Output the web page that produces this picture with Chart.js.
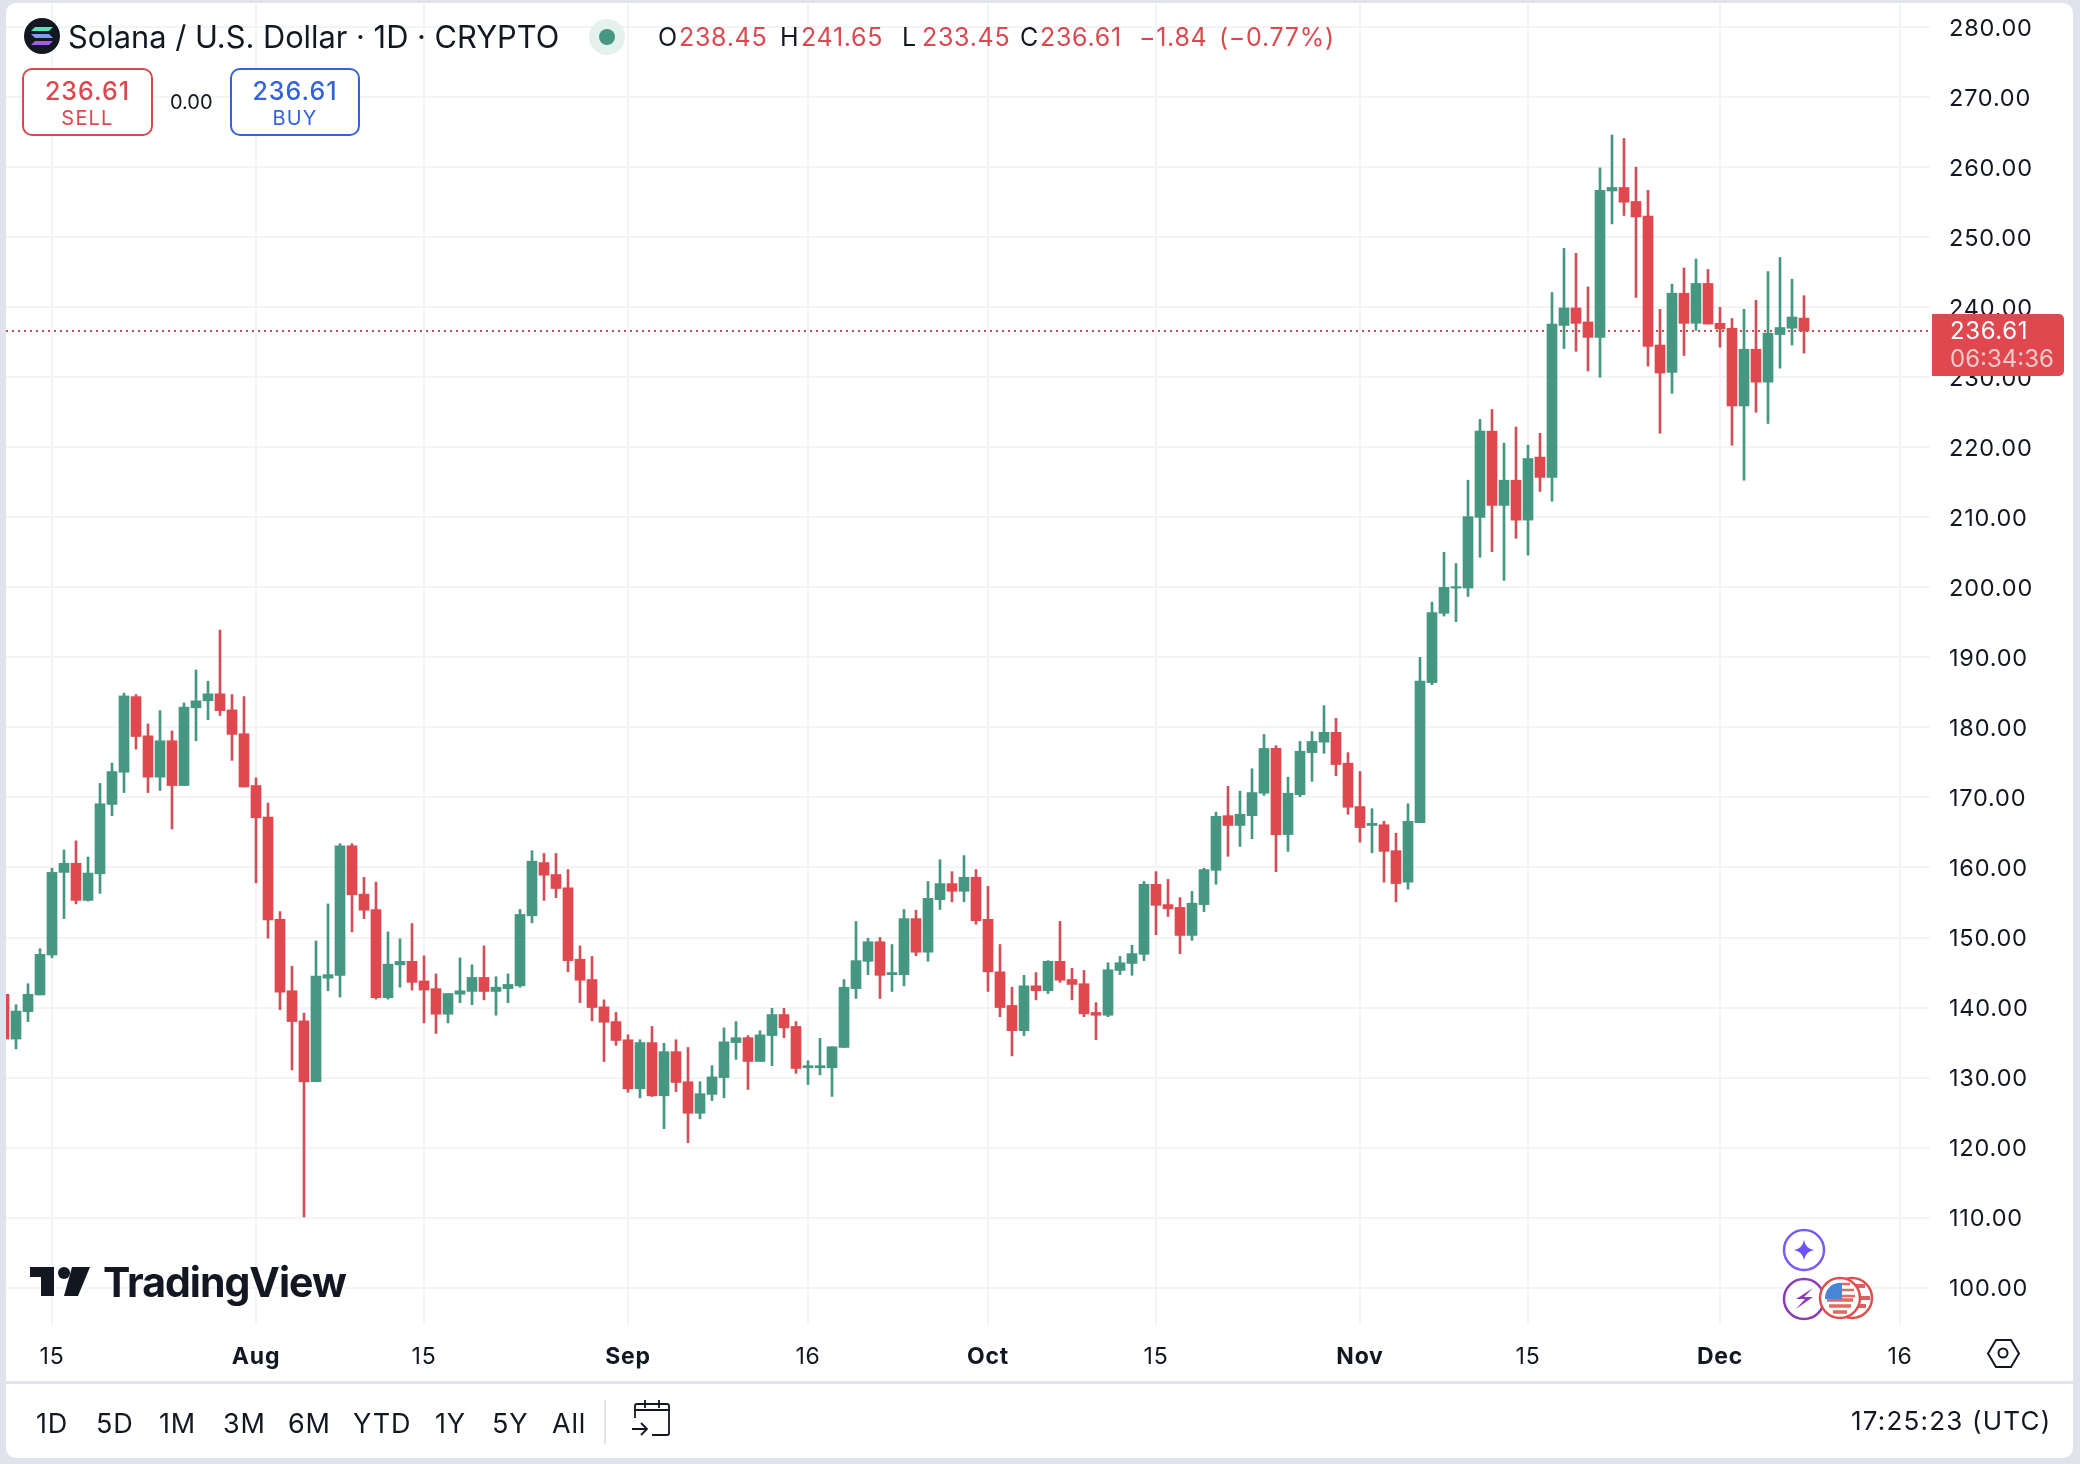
<!DOCTYPE html>
<html>
<head>
<meta charset="utf-8">
<title>Solana / U.S. Dollar</title>
<script src="https://cdn.jsdelivr.net/npm/chart.js@4"></script>
<style>
  html, body { margin: 0; padding: 0; background: #e0e3eb; }
  body { width: 2080px; height: 1464px; position: relative; overflow: hidden; font-family: Inter, sans-serif; color: #131722; }
  #card { position: absolute; left: 6px; top: 3px; width: 2067px; height: 1455px; background: #fff; border-radius: 10px; }
  #chart { position: absolute; left: 0; top: 0; }
  .t { position: absolute; white-space: nowrap; transform: translateY(-50%); line-height: 1; }
  .ohlc { font-size: 25px; letter-spacing: .7px; top: 37px; }
  .range { font-size: 27px; letter-spacing: .8px; top: 1423px; }
  .red { color: #dc484e; }
  .btn { position: absolute; box-sizing: border-box; border-radius: 10px; background: #fff; border: 2px solid; top: 68px; height: 68px; }
  svg { position: absolute; overflow: visible; }
  #sep { position: absolute; left: 6px; top: 1381px; width: 2067px; height: 3px; background: #e0e3eb; }
  #div { position: absolute; left: 604px; top: 1400px; width: 2px; height: 44px; background: #e0e3eb; }
  #price { position: absolute; left: 1932px; top: 314px; width: 132px; height: 62px; background: #df484e; border-radius: 0 5px 5px 0; }
</style>
</head>
<body>
<div id="card"></div>
<canvas id="chart" width="2080" height="1464"></canvas>

<svg style="left:0;top:0" width="2080" height="1464">
  <!-- Solana coin -->
  <circle cx="42" cy="36" r="18" fill="#131722"/>
  <path d="M35 27h18l-4 4H31z" fill="#5fe0b8"/>
  <path d="M31 34h18l4 4H35z" fill="#7f9cf0"/>
  <path d="M35 41h18l-4 4H31z" fill="#a45cf0"/>
  <!-- market status -->
  <circle cx="607" cy="37" r="18" fill="#e4f1ed"/>
  <circle cx="607" cy="37" r="8" fill="#459782"/>
  <!-- TradingView mark -->
  <path d="M30 1267h24v29H41v-19H30z" fill="#131722"/>
  <circle cx="64" cy="1273" r="6" fill="#131722"/>
  <path d="M72 1267h18l-12 29H64z" fill="#131722"/>
  <!-- event badges -->
  <circle cx="1804" cy="1250" r="20" fill="#fff" stroke="#7a5cf5" stroke-width="2.5"/>
  <path d="M1804 1240q1.500 8.500 10 10q-8.500 1.500 -10 10q-1.500 -8.500 -10 -10q8.500 -1.500 10 -10z" fill="#6f52f5"/>
  <circle cx="1804" cy="1299" r="20" fill="#fff" stroke="#8c3cb4" stroke-width="2.5"/>
  <path d="M1813 1288l-17 11h9l-9 10 17-12h-9z" fill="#8c3cb4"/>
  <circle cx="1852" cy="1298" r="20" fill="#fff" stroke="#dd5050" stroke-width="2.5"/>
  <path d="M1852 1286h13M1852 1298h18M1852 1306h14" stroke="#dd6060" stroke-width="4"/>
  <circle cx="1840" cy="1298" r="20" fill="#fff" stroke="#dd5050" stroke-width="2.500"/>
  <path d="M1827 1300h26M1829 1306h22M1833 1312h14" stroke="#e26a62" stroke-width="3.500"/>
  <path d="M1842 1284h8M1842 1290h12M1842 1296h13" stroke="#e26a62" stroke-width="2.500"/>
  <path d="M1825 1299a15 15 0 0 1 17-16v16z" fill="#4a86d8"/>
  <!-- settings -->
  <path d="M1996 1340h15l8 13.500l-8 13.500h-15l-8-13.500z" fill="none" stroke="#131722" stroke-width="2"/>
  <circle cx="2003" cy="1353" r="4.500" fill="none" stroke="#131722" stroke-width="2"/>
  <!-- go to date -->
  <path d="M635 1418V1406a2 2 0 0 1 2-2H667a2 2 0 0 1 2 2V1433a2 2 0 0 1-2 2H652M635 1410H669M645 1400v8M659 1400v8M632 1429H647M641 1423l6 6-6 6" fill="none" stroke="#131722" stroke-width="1.800"/>
</svg>

<div class="t" id="title" style="left:68px;top:37px;font-size:30.8px">Solana / U.S. Dollar · 1D · CRYPTO</div>
<div class="t ohlc" style="left:658px">O</div>
<div class="t ohlc red" style="left:679px">238.45</div>
<div class="t ohlc" style="left:780px">H</div>
<div class="t ohlc red" style="left:801px">241.65</div>
<div class="t ohlc" style="left:902px">L</div>
<div class="t ohlc red" style="left:922px">233.45</div>
<div class="t ohlc" style="left:1020px">C</div>
<div class="t ohlc red" style="left:1040px">236.61</div>
<div class="t ohlc red" style="left:1139px">−1.84</div>
<div class="t ohlc red" style="left:1219px">(−0.77%)</div>

<div class="btn" style="left:22px;width:131px;border-color:#d9484e"></div>
<div class="t red" style="left:22px;width:131px;text-align:center;top:91px;font-size:25px;font-weight:500;letter-spacing:1px">236.61</div>
<div class="t red" style="left:22px;width:131px;text-align:center;top:118px;font-size:20px;letter-spacing:1.200px">SELL</div>
<div class="t" style="left:170px;top:102px;font-size:20px">0.00</div>
<div class="btn" style="left:230px;width:130px;border-color:#3563dc"></div>
<div class="t" style="left:230px;width:130px;text-align:center;top:91px;font-size:25px;font-weight:500;letter-spacing:1px;color:#3563dc">236.61</div>
<div class="t" style="left:230px;width:130px;text-align:center;top:118px;font-size:20px;letter-spacing:1.200px;color:#3563dc">BUY</div>

<div id="price"></div>
<div class="t" style="left:1950px;top:331px;font-size:24px;letter-spacing:.6px;color:#fff">236.61</div>
<div class="t" style="left:1950px;top:359px;font-size:24px;color:#fff;opacity:.7">06:34:36</div>

<div class="t" style="left:103px;top:1282px;font-size:41px;font-weight:700;letter-spacing:-1px">TradingView</div>

<div id="sep"></div>
<div id="div"></div>
<div class="t range" style="left:36px">1D</div>
<div class="t range" style="left:96px">5D</div>
<div class="t range" style="left:159px">1M</div>
<div class="t range" style="left:223px">3M</div>
<div class="t range" style="left:288px">6M</div>
<div class="t range" style="left:353px">YTD</div>
<div class="t range" style="left:435px">1Y</div>
<div class="t range" style="left:492px">5Y</div>
<div class="t range" style="left:552px">All</div>
<div class="t" style="left:1851px;top:1421px;font-size:26px;letter-spacing:1.200px">17:25:23 (UTC)</div>

<script>
// daily candles, 11 Jul to 8 Dec
const opens = [141.9,135.5,139.4,141.8,147.5,159.3,160.6,155.3,159.1,169.0,173.6,184.4,178.8,172.9,178.1,171.7,182.8,183.8,184.8,182.5,179.1,171.7,167.2,152.6,142.4,138.1,129.4,144.2,144.6,163.1,156.2,154.0,141.4,146.1,146.6,143.8,142.7,139.05,141.9,142.3,144.3,142.3,142.7,143.1,153.1,160.7,159.0,157.1,146.9,144.0,140.1,138.0,135.4,128.4,135.0,127.4,133.7,129.4,124.9,127.6,130.0,135.0,135.7,132.3,136.0,139.0,137.3,131.4,131.4,131.4,134.3,142.7,146.6,149.4,144.7,144.7,152.7,147.9,155.4,157.7,156.6,158.6,152.6,145.1,140.3,136.7,143.1,142.4,146.6,144.0,143.4,139.3,138.9,145.3,146.3,147.6,157.6,154.7,154.3,150.3,154.7,159.6,167.4,166.0,167.4,170.6,177.0,164.7,170.4,176.4,177.9,179.3,174.9,168.7,166.0,166.1,162.4,157.9,166.4,186.4,196.3,199.9,199.9,210.0,222.3,211.7,215.3,209.6,218.6,215.7,237.4,239.9,237.9,235.7,256.6,257.1,255.1,253.0,234.6,230.7,242.0,237.7,243.4,237.7,237.0,225.9,234.0,229.3,236.1,237.0,238.45];
const highs = [141.9,140.4,143.4,148.4,159.9,162.5,163.8,161.5,172.0,174.9,184.9,184.7,180.5,182.4,179.5,183.5,188.2,186.6,193.9,184.7,184.4,172.8,169.2,153.7,145.9,139.2,149.5,154.8,163.4,163.4,158.6,157.9,150.8,149.8,152.0,147.4,144.8,142.0,147.1,146.1,148.8,144.4,144.8,154.0,162.4,162.0,162.0,159.7,148.8,147.3,141.1,139.3,136.1,135.4,137.3,134.9,135.4,134.3,129.4,131.7,137.1,138.0,136.0,136.7,139.9,139.9,138.0,132.4,135.6,134.4,144.0,152.3,149.9,150.0,149.0,154.0,153.9,158.0,161.1,159.4,161.7,159.7,157.3,149.0,142.9,144.6,145.0,146.7,152.3,145.6,145.3,140.7,146.4,147.3,148.9,158.0,159.4,158.3,155.7,156.6,159.9,167.9,171.6,170.9,174.1,179.0,177.4,172.9,178.0,179.4,183.1,181.3,176.4,173.7,168.4,166.6,164.9,169.1,190.0,197.9,205.0,203.4,215.3,224.0,225.4,220.6,222.9,220.3,222.0,242.1,248.4,247.7,242.9,259.9,264.6,264.1,260.0,256.7,239.7,243.3,245.6,246.9,245.4,240.0,238.4,239.7,241.0,245.1,247.1,244.0,241.65];
const lows = [135.5,134.1,138.0,141.8,147.1,152.7,154.8,155.2,156.3,167.4,170.7,176.9,170.7,171.0,165.5,171.7,178.1,181.1,181.7,175.3,171.5,157.8,149.9,139.7,131.1,110.1,129.4,142.4,141.5,150.8,152.7,141.2,141.2,142.9,142.5,137.8,136.3,137.8,140.7,140.4,141.1,138.9,140.7,142.9,152.1,155.3,155.7,145.1,140.7,138.1,132.3,134.6,127.9,127.1,127.3,122.7,128.0,120.7,124.1,126.7,127.1,132.6,128.3,132.3,131.7,135.7,130.6,129.0,130.4,127.3,134.3,141.3,144.7,141.3,142.3,143.1,147.4,146.6,154.0,155.1,155.1,151.9,142.3,138.7,133.1,136.0,141.1,142.0,143.6,141.1,138.7,135.4,138.7,144.7,144.6,146.7,150.4,153.0,147.7,149.6,153.7,157.6,161.6,163.0,164.1,170.3,159.4,162.3,170.1,172.3,176.3,173.1,167.6,163.6,162.1,157.9,155.1,156.9,166.4,186.1,195.9,195.1,198.7,204.3,205.1,201.0,207.0,204.6,213.7,212.3,234.1,233.7,230.9,230.0,251.9,253.1,241.4,231.6,222.0,227.7,233.1,236.7,237.6,234.3,220.3,215.3,225.0,223.4,231.3,234.6,233.45];
const closes = [135.5,139.5,141.9,147.6,159.3,160.6,155.3,159.2,169.1,173.7,184.5,178.7,172.9,178.1,171.7,182.9,183.8,184.8,182.4,179.0,171.5,167.1,152.5,142.2,138.0,129.4,144.5,144.7,163.1,156.1,153.9,141.4,146.2,146.6,143.6,142.5,139.05,142.0,142.4,144.3,142.3,142.9,143.3,153.3,160.9,158.9,157.0,146.7,143.9,140.0,137.9,135.3,128.4,135.0,127.4,133.7,129.3,124.9,127.7,130.1,135.1,135.7,132.3,136.1,139.0,137.1,131.3,131.7,131.7,134.4,142.9,146.7,149.4,144.6,145.0,152.7,147.9,155.6,157.7,156.6,158.6,152.4,145.1,140.0,136.7,143.1,142.4,146.6,143.9,143.3,139.1,138.9,145.4,146.4,147.7,157.6,154.6,154.1,150.3,154.9,159.7,167.3,166.0,167.6,170.7,177.0,164.7,170.6,176.6,178.0,179.3,174.7,168.6,165.7,166.3,162.3,157.7,166.6,186.6,196.4,200.0,200.1,210.1,222.3,211.7,215.3,209.6,218.4,215.7,237.6,239.9,237.7,235.7,256.7,257.1,255.0,252.9,234.4,230.6,242.0,237.7,243.4,237.6,236.9,225.9,234.0,229.3,236.3,237.1,238.6,236.61];

const lastClose = 236.61;

const xTickDays = [4, 21, 35, 52, 67, 82, 96, 113, 127, 143, 158];
const xTickLabels = ['15', 'Aug', '15', 'Sep', '16', 'Oct', '15', 'Nov', '15', 'Dec', '16'];
const monthLabels = ['Aug', 'Sep', 'Oct', 'Nov', 'Dec'];
const yTicks = [100, 110, 120, 130, 140, 150, 160, 170, 180, 190, 200, 210, 220, 230, 240, 250, 260, 270, 280];

const GREEN = '#459782';
const RED = '#df484e';
const RED_WICK = '#cf5058';
const GRID = '#f3f4f6';

const xMin = 1 / 6;
const xMax = 160.5;

const colors = closes.map((c, i) => (c >= opens[i] ? GREEN : RED));
const wickColors = closes.map((c, i) => (c >= opens[i] ? GREEN : RED_WICK));

// month names are bold on the time axis
function isMonthTick(ctx) {
    return ctx.tick && monthLabels.includes(xTickLabels[xTickDays.indexOf(ctx.tick.value)]);
}

// tick labels would otherwise push the plot area in
function noScalePadding(scale) {
    scale.paddingTop = scale.paddingBottom = scale.paddingLeft = scale.paddingRight = 0;
}

const tickSpacing = {
    id: 'tickSpacing',
    beforeDraw(chart) { chart.ctx.letterSpacing = '0.8px'; }
};

new Chart(document.getElementById('chart'), {
    plugins: [tickSpacing],
    data: {
        datasets: [
            {
                type: 'line',
                data: [{ x: xMin, y: lastClose }, { x: xMax, y: lastClose }],
                borderColor: '#cf4a52',
                borderWidth: 2,
                borderDash: [2, 4],
                pointRadius: 0,
                order: 3
            },
            {
                type: 'bar',
                data: lows.map((l, i) => ({ x: i, y: [l, highs[i]] })),
                backgroundColor: wickColors,
                barThickness: 2,
                grouped: false,
                order: 2
            },
            {
                type: 'bar',
                data: opens.map((o, i) => ({ x: i, y: [o, closes[i]] })),
                backgroundColor: colors,
                barThickness: 10,
                grouped: false,
                order: 1
            }
        ]
    },
    options: {
        responsive: false,
        animation: false,
        devicePixelRatio: 1,
        layout: { autoPadding: false, padding: { left: 6, top: 4, right: 0, bottom: 0 } },
        plugins: { legend: { display: false }, tooltip: { enabled: false } },
        scales: {
            x: {
                type: 'linear',
                offset: false,
                min: xMin,
                max: xMax,
                afterFit: scale => { scale.height = 139; noScalePadding(scale); },
                afterBuildTicks: scale => { scale.ticks = xTickDays.map(value => ({ value })); },
                grid: { offset: false, color: GRID, lineWidth: 2, drawTicks: false },
                border: { display: false },
                ticks: {
                    autoSkip: false,
                    maxRotation: 0,
                    padding: 18,
                    color: '#131722',
                    font: ctx => ({ family: 'Inter', size: 23, weight: isMonthTick(ctx) ? '700' : '400' }),
                    callback: value => xTickLabels[xTickDays.indexOf(value)]
                }
            },
            y: {
                type: 'linear',
                position: 'right',
                min: 94.67,
                max: 283.3,
                afterFit: scale => { scale.width = 150; noScalePadding(scale); },
                afterBuildTicks: scale => { scale.ticks = yTicks.map(value => ({ value })); },
                grid: { color: GRID, lineWidth: 2, drawTicks: false },
                border: { display: false },
                ticks: {
                    padding: 19,
                    labelOffset: 1.5,
                    color: '#131722',
                    font: { family: 'Inter', size: 23.5 },
                    callback: value => value.toFixed(2)
                }
            }
        }
    }
});
</script>
</body>
</html>
